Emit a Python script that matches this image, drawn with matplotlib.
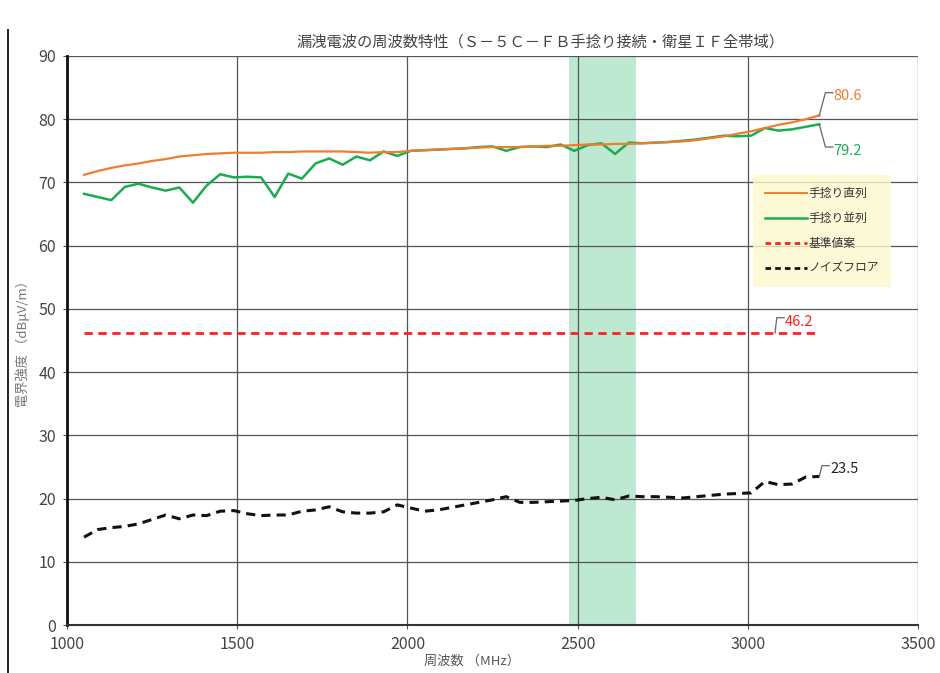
import matplotlib
matplotlib.use("Agg")
import matplotlib.pyplot as plt
from matplotlib.lines import Line2D

plt.rcParams['font.family'] = ['Noto Sans CJK JP', 'DejaVu Sans']

# Frequency points (MHz)
freq = [1050, 1090, 1130, 1170, 1210, 1250, 1290, 1330, 1370, 1410,
        1450, 1490, 1530, 1570, 1610, 1650, 1690, 1730, 1770, 1810,
        1850, 1890, 1930, 1970, 2010, 2050, 2090, 2130, 2170, 2210,
        2250, 2290, 2330, 2370, 2410, 2450, 2490, 2530, 2570, 2610,
        2650, 2690, 2730, 2770, 2810, 2850, 2890, 2930, 2970, 3010,
        3050, 3090, 3130, 3170, 3210]

# 手捻り直列 (dBμV/m)
series_direct = [71.2, 71.8, 72.3, 72.7, 73.0, 73.4, 73.7, 74.1, 74.3, 74.5,
                 74.6, 74.7, 74.7, 74.7, 74.8, 74.8, 74.9, 74.9, 74.9, 74.9,
                 74.8, 74.7, 74.8, 74.8, 75.0, 75.1, 75.2, 75.3, 75.4, 75.5,
                 75.6, 75.6, 75.6, 75.7, 75.8, 75.8, 75.9, 76.0, 76.0, 76.1,
                 76.1, 76.2, 76.3, 76.4, 76.5, 76.7, 77.0, 77.3, 77.7, 78.1,
                 78.6, 79.1, 79.5, 80.0, 80.6]

# 手捻り並列 (dBμV/m)
series_parallel = [68.2, 67.7, 67.2, 69.3, 69.8, 69.2, 68.7, 69.2, 66.8, 69.5,
                   71.3, 70.8, 70.9, 70.8, 67.7, 71.4, 70.6, 73.0, 73.8, 72.8,
                   74.1, 73.5, 74.9, 74.2, 75.0, 75.1, 75.2, 75.3, 75.4, 75.6,
                   75.7, 75.0, 75.6, 75.7, 75.6, 76.0, 75.0, 75.9, 76.2, 74.5,
                   76.3, 76.2, 76.3, 76.4, 76.6, 76.8, 77.1, 77.4, 77.3, 77.4,
                   78.6, 78.2, 78.4, 78.8, 79.2]

# 基準値案 (dBμV/m)
limit_value = 46.2

# ノイズフロア (dBμV/m)
noise_floor = [13.9, 15.1, 15.4, 15.6, 16.0, 16.7, 17.4, 16.8, 17.4, 17.3,
               18.0, 18.1, 17.6, 17.3, 17.4, 17.4, 18.0, 18.2, 18.7, 17.9,
               17.7, 17.7, 17.9, 19.0, 18.5, 18.0, 18.2, 18.6, 19.0, 19.4,
               19.8, 20.3, 19.4, 19.4, 19.5, 19.6, 19.7, 20.0, 20.2, 19.8,
               20.4, 20.3, 20.3, 20.2, 20.1, 20.3, 20.5, 20.7, 20.8, 20.9,
               22.7, 22.2, 22.3, 23.4, 23.5]

band = (2475, 2672)

legend_labels = ["手捻り直列", "手捻り並列", "基準値案", "ノイズフロア"]
x_ticks = [1000, 1500, 2000, 2500, 3000, 3500]
y_ticks = [0, 10, 20, 30, 40, 50, 60, 70, 80, 90]

c_orange = "#f07d2e"
c_green = "#19ad50"
c_red = "#ff2020"
c_black = "#111111"

fig = plt.figure(figsize=(9.4, 6.73), dpi=100)
ax = fig.add_axes([0.0713, 0.0713, 0.9053, 0.8455])

ax.axvspan(band[0], band[1], color="#bde9d3", lw=0, zorder=0)

ax.set_xlim(1000, 3500)
ax.set_ylim(0, 90)
ax.set_xticks(x_ticks)
ax.set_yticks(y_ticks)
ax.grid(True, color="#555555", lw=0.9, zorder=1)
ax.set_axisbelow(True)
ax.tick_params(axis="both", labelsize=11.5, colors="#555555", length=3, pad=5)
for lbl in ax.get_xticklabels() + ax.get_yticklabels():
    lbl.set_color("#444444")
ax.spines["left"].set_linewidth(2.0)
ax.spines["left"].set_color("#111111")
ax.spines["bottom"].set_linewidth(1.5)
ax.spines["bottom"].set_color("#333333")
ax.spines["top"].set_visible(False)
ax.spines["right"].set_visible(False)

ax.plot(freq, series_direct, color=c_orange, lw=1.6, zorder=4)
ax.plot(freq, series_parallel, color=c_green, lw=1.8, zorder=3)
ax.plot([freq[0], freq[-1]], [limit_value, limit_value], color=c_red, lw=2.0,
        ls=(0, (3, 2)), zorder=3)
ax.plot(freq, noise_floor, color=c_black, lw=2.2, ls=(0, (3, 2)), zorder=3)

# Value callouts at the series ends
def callout(x0, y0, x1, y1, text, color, lead="#666666"):
    ax.plot([x0, x1, x1 + 22], [y0, y1, y1], color=lead, lw=0.9,
            clip_on=False, zorder=5)
    ax.text(x1 + 24, y1 - 0.6, text, color=color, fontsize=10.5,
            ha="left", va="center", zorder=6)

callout(freq[-1], series_direct[-1], 3228, 84.2,
        f"{series_direct[-1]:.1f}", c_orange)
callout(freq[-1], series_parallel[-1], 3228, 75.6,
        f"{series_parallel[-1]:.1f}", c_green)
callout(3080, limit_value, 3085, 48.6, f"{limit_value:.1f}", c_red)
callout(freq[-1], noise_floor[-1], 3218, 25.2,
        f"{noise_floor[-1]:.1f}", "#222222")

# Legend on pale yellow panel
handles = [Line2D([], [], color=c_orange, lw=1.4),
           Line2D([], [], color=c_green, lw=1.8),
           Line2D([], [], color=c_red, lw=2.0, ls=(0, (2, 1.5))),
           Line2D([], [], color=c_black, lw=2.0, ls=(0, (2, 1.5)))]
leg = ax.legend(handles, legend_labels, loc="upper left",
                bbox_to_anchor=(0.806, 0.79), fontsize=8.5,
                frameon=True, fancybox=False, handlelength=3.6,
                borderpad=1.0, labelspacing=1.0, handletextpad=0.1,
                borderaxespad=0)
leg.get_frame().set_facecolor("#fcf9cc")
leg.get_frame().set_edgecolor("none")
for t in leg.get_texts():
    t.set_color("#333333")

fig.text(540 / 940, 1 - 42 / 673,
         "漏洩電波の周波数特性（Ｓ－５Ｃ－ＦＢ手捻り接続・衛星ＩＦ全帯域）",
         fontsize=11, color="#444444", ha="center", va="center")
fig.text(472 / 940, 1 - 661 / 673, "周波数 （MHz）",
         fontsize=9.5, color="#555555", ha="center", va="center")
ax.set_ylabel("電界強度 （dBμV/m）", fontsize=9.5, color="#777777", labelpad=6)

# Left edge frame line
fig.add_artist(Line2D([0.009, 0.009], [0.0, 0.955], transform=fig.transFigure,
                      color="#222222", lw=1.4))

fig.savefig("out.png", dpi=100, facecolor="white")
